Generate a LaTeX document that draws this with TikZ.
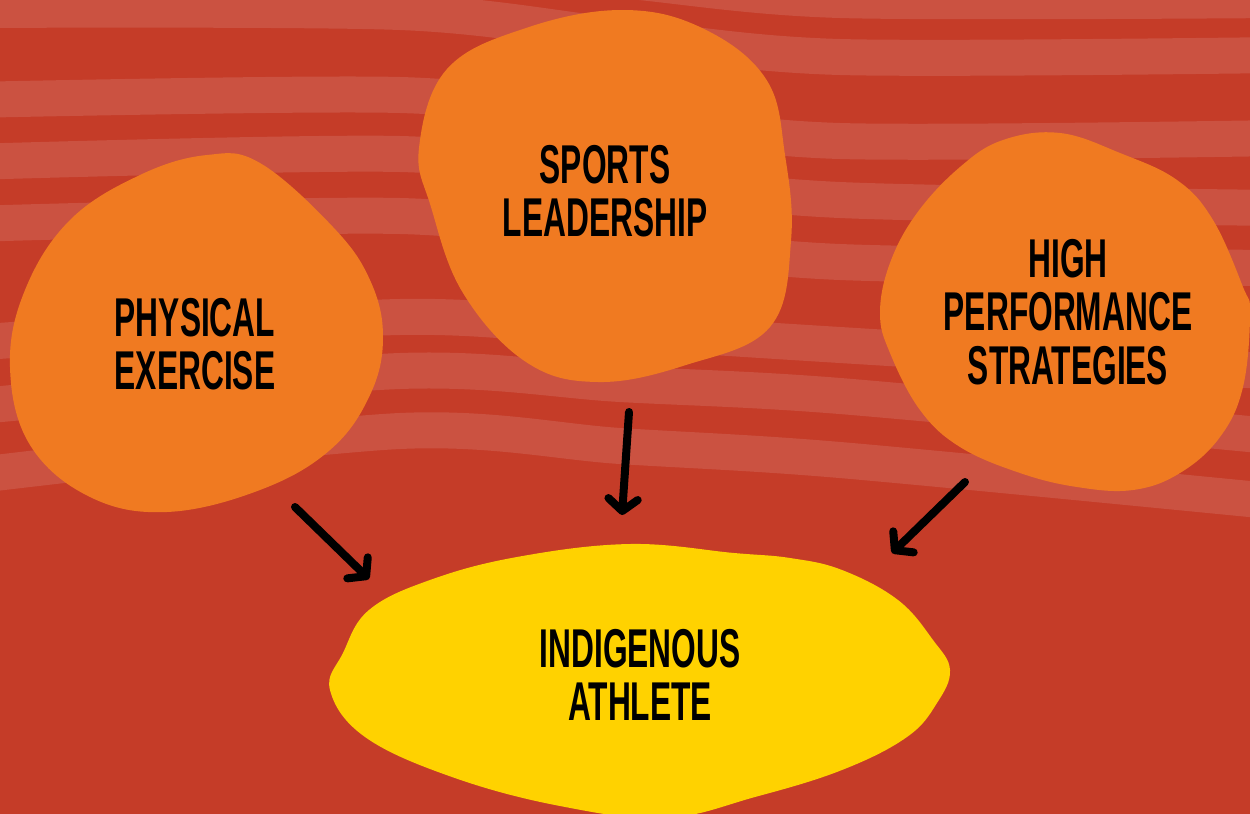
\documentclass[tikz,border=0pt]{standalone}
\usepackage{fontspec}
\usepackage{tikz}
\usetikzlibrary{arrows.meta}
\newfontfamily\blobfont[FakeStretch=0.58]{Liberation Sans}

\begin{document}
\begin{tikzpicture}[x=0.75pt,y=0.75pt,yscale=-1,xscale=1,
  stripe/.style={draw={rgb, 255:red, 203; green, 82; blue, 65 }, line width=27pt},
  blob/.style={fill={rgb, 255:red, 240; green, 122; blue, 33 }},
  hub/.style={fill={rgb, 255:red, 255; green, 210; blue, 0 }},
  blobtext/.style={font=\blobfont\bfseries\fontsize{41}{40}\selectfont, align=center, text=black, inner sep=0pt},
  pointer/.style={draw=black, line width=6pt, line cap=round, -{Straight Barb[length=9pt,width=22pt,round]}}]
\useasboundingbox (0,0) rectangle (1250,814);
\clip (0,0) rectangle (1250,814);

%Shape: Background
\fill [color={rgb, 255:red, 197; green, 60; blue, 40 }] (0,0) rectangle (1250,814);
%Stripes
\draw [stripe] plot[smooth] coordinates {(-30,-50) (400,-40) (620,-20) (840,0) (1280,0)};
\draw [stripe] plot[smooth] coordinates {(-30,10) (400,12) (620,36) (840,57) (1280,55)};
\draw [stripe] plot[smooth] coordinates {(-30,100) (400,95) (620,118) (840,141) (1280,138)};
\draw [stripe] plot[smooth] coordinates {(-30,162) (400,154) (620,178) (840,200) (1280,208)};
\draw [stripe] plot[smooth] coordinates {(-30,224) (400,216) (620,240) (840,262) (1280,268)};
\draw [stripe] plot[smooth] coordinates {(-30,343) (400,317) (620,331) (840,345) (1280,372)};
\draw [stripe] plot[smooth] coordinates {(-30,407) (400,371) (620,384) (840,396) (1280,437)};
\draw [stripe] plot[smooth] coordinates {(-30,476) (400,431) (620,446) (840,460) (1280,502)};

%Shape: Blob [id:physical]
\fill [blob] plot[smooth cycle, tension=0.65] coordinates {(207,155) (260,163) (333,227) (370,280) (383,337) (370,395) (330,450) (260,490) (167,512) (90,497) (30,445) (10,367) (25,290) (70,220) (140,175)};
%Shape: Blob [id:sports]
\fill [blob] plot[smooth cycle, tension=0.65] coordinates {(622,10) (702,28) (766,79) (785,155) (791,241) (770,327) (686,365) (598,382) (526,362) (463,293) (431,207) (419,148) (447,69) (526,28)};
%Shape: Blob [id:high]
\fill [blob] plot[smooth cycle, tension=0.65] coordinates {(1060,133) (1120,153) (1177,180) (1213,220) (1243,287) (1250,313) (1243,387) (1220,437) (1180,473) (1133,490) (1077,487) (1020,473) (960,447) (920,410) (890,353) (880,313) (890,263) (917,213) (960,167) (1003,140)};
%Shape: Blob [id:athlete]
\fill [hub] plot[smooth cycle, tension=0.65] coordinates {(630,544) (734,553) (790,558) (842,570) (898,600) (933,640) (950,670) (937,703) (907,737) (842,770) (755,797) (665,818) (560,806) (452,777) (365,737) (330,690) (343,653) (369,610) (430,580) (517,557)};

%Text nodes
\node [blobtext] (physical) at (195,344) {PHYSICAL\\EXERCISE};
\node [blobtext] (sports) at (605,191) {SPORTS\\LEADERSHIP};
\node [blobtext] (high) at (1068,312) {HIGH\\PERFORMANCE\\STRATEGIES};
\node [blobtext] (athlete) at (640,675) {INDIGENOUS\\ATHLETE};

%Arrows
\coordinate (pe-tail) at (295,507);
\coordinate (pe-tip) at (369,579);
\coordinate (sl-tail) at (629,412);
\coordinate (sl-tip) at (622,515);
\coordinate (hp-tail) at (965,482);
\coordinate (hp-tip) at (892,553);
\draw [pointer] (pe-tail) -- (pe-tip);
\draw [pointer] (sl-tail) -- (sl-tip);
\draw [pointer] (hp-tail) -- (hp-tip);

\end{tikzpicture}
\end{document}
